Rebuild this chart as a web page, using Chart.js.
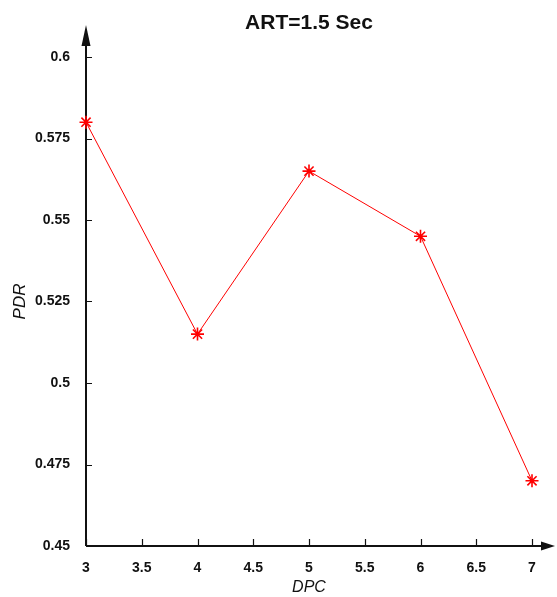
<!DOCTYPE html>
<html>
<head>
<meta charset="utf-8">
<title>ART=1.5 Sec</title>
<script src="https://cdn.jsdelivr.net/npm/chart.js@4"></script>
<style>
  html, body { margin: 0; padding: 0; background: #fff; }
  #pdrChart { display: block; }
</style>
</head>
<body>
<canvas id="pdrChart" width="557" height="597"></canvas>
<script>
// PDR against DPC for ART = 1.5 s
const dpc = [3, 4, 5, 6, 7];
const pdr = [0.58, 0.515, 0.565, 0.545, 0.47];
const xTicks = [3, 3.5, 4, 4.5, 5, 5.5, 6, 6.5, 7];
const yTicks = [0.45, 0.475, 0.5, 0.525, 0.55, 0.575, 0.6];

const FONT = '"Liberation Sans", Arial, Helvetica, sans-serif';

// axis lines with arrow heads, inward tick marks and the title
const axesPlugin = {
  id: 'arrowAxes',
  beforeDatasetsDraw(chart) {
    const { ctx, chartArea: a, scales: { x, y } } = chart;
    ctx.save();
    ctx.strokeStyle = '#111';
    ctx.fillStyle = '#111';

    // tick marks pointing into the plot
    ctx.lineWidth = 1.2;
    ctx.beginPath();
    x.ticks.forEach(t => {
      const px = Math.round(x.getPixelForValue(t.value)) + 0.5;
      ctx.moveTo(px, a.bottom);
      ctx.lineTo(px, a.bottom - 7);
    });
    y.ticks.forEach(t => {
      const py = Math.round(y.getPixelForValue(t.value)) + 0.5;
      ctx.moveTo(a.left, py);
      ctx.lineTo(a.left + 6, py);
    });
    ctx.stroke();

    // axis lines run past the plot to the arrow tips
    const tipY = 25, tipX = 555;
    ctx.lineWidth = 2;
    ctx.beginPath();
    ctx.moveTo(a.left, a.bottom);
    ctx.lineTo(a.left, tipY + 10);
    ctx.moveTo(a.left, a.bottom);
    ctx.lineTo(tipX - 10, a.bottom);
    ctx.stroke();

    ctx.beginPath();
    ctx.moveTo(a.left, tipY);
    ctx.lineTo(a.left - 4.5, tipY + 21);
    ctx.lineTo(a.left + 4.5, tipY + 21);
    ctx.closePath();
    ctx.fill();

    ctx.beginPath();
    ctx.moveTo(tipX, a.bottom);
    ctx.lineTo(tipX - 14, a.bottom - 4.5);
    ctx.lineTo(tipX - 14, a.bottom + 4.5);
    ctx.closePath();
    ctx.fill();

    // title over the plot centre
    ctx.font = 'bold 21px ' + FONT;
    ctx.textAlign = 'center';
    ctx.textBaseline = 'middle';
    ctx.fillText('ART=1.5 Sec', (a.left + a.right) / 2, 23);
    ctx.restore();
  }
};

new Chart(document.getElementById('pdrChart'), {
  type: 'line',
  data: {
    datasets: [{
      label: 'PDR',
      data: dpc.map((v, i) => ({ x: v, y: pdr[i] })),
      borderColor: '#ff0000',
      borderWidth: 1,
      pointStyle: 'star',
      pointRadius: 6.5,
      pointBorderColor: '#ff0000',
      pointBackgroundColor: '#ff0000',
      pointBorderWidth: 1.6,
      tension: 0,
      clip: false
    }]
  },
  options: {
    responsive: false,
    animation: false,
    layout: { padding: { left: 0, top: 57, right: 25, bottom: 0 } },
    plugins: {
      legend: { display: false },
      tooltip: { enabled: false }
    },
    scales: {
      x: {
        type: 'linear',
        min: 3,
        max: 7,
        afterFit(scale) { scale.height = 51; },
        afterBuildTicks(scale) { scale.ticks = xTicks.map(v => ({ value: v })); },
        grid: { display: false },
        border: { display: false },
        ticks: {
          color: '#111',
          padding: 6,
          maxRotation: 0,
          font: { family: FONT, size: 14, weight: 'bold' },
          callback: v => String(v)
        },
        title: {
          display: true,
          text: 'DPC',
          color: '#111',
          padding: 0,
          font: { family: FONT, size: 16, style: 'italic' }
        }
      },
      y: {
        type: 'linear',
        min: 0.45,
        max: 0.6,
        afterFit(scale) { scale.width = 86; },
        afterBuildTicks(scale) { scale.ticks = yTicks.map(v => ({ value: v })); },
        grid: { display: false },
        border: { display: false },
        ticks: {
          color: '#111',
          padding: 8,
          font: { family: FONT, size: 14, weight: 'bold' },
          callback: v => String(v)
        },
        title: {
          display: true,
          text: 'PDR',
          color: '#111',
          padding: { top: 10 },
          font: { family: FONT, size: 17, style: 'italic' }
        }
      }
    }
  },
  plugins: [axesPlugin]
});
</script>
</body>
</html>
